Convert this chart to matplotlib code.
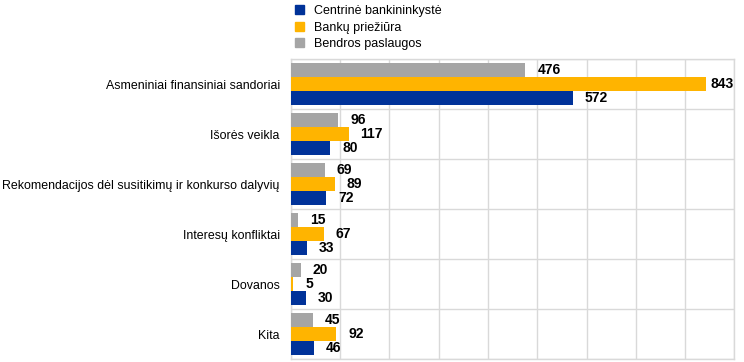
import numpy as np
import matplotlib.pyplot as plt

plt.rcParams['font.family'] = ['Liberation Sans', 'DejaVu Sans']

# data (top to bottom)
categories = ["Asmeniniai finansiniai sandoriai", "Išorės veikla",
              "Rekomendacijos dėl susitikimų ir konkurso dalyvių",
              "Interesų konfliktai", "Dovanos", "Kita"]
series_names = ["Centrinė bankininkystė", "Bankų priežiūra", "Bendros paslaugos"]
centrine = [572, 80, 72, 33, 30, 46]
prieziura = [843, 117, 89, 67, 5, 92]
bendros = [476, 96, 69, 15, 20, 45]
colors = ["#003299", "#FFB400", "#A5A5A5"]

fig = plt.figure(figsize=(7.44, 3.62), dpi=100)
ax = fig.add_axes([0.391, 0.008, 0.596, 0.829])

y = np.arange(len(categories))
h = 0.28
xmax = 900
# gray on top, orange middle, blue bottom (axis inverted)
groups = [(centrine, h), (prieziura, 0), (bendros, -h)]
for (vals, off), col, name in zip(groups, colors, series_names):
    ax.barh(y + off, vals, height=h, color=col, label=name, zorder=3)
    for yy, v in zip(y + off, vals):
        # keep labels inside the plot area, like the original
        xt = min(v + 24, xmax - 48)
        ax.text(xt, yy, str(v), va='center', ha='left',
                fontsize=10, fontweight='bold', zorder=4)

ax.set_xlim(0, xmax)
ax.set_ylim(len(categories) - 0.5, -0.5)
ax.set_xticks(np.arange(0, xmax + 1, 100))
ax.set_xticklabels([])
ax.set_yticks(y)
ax.set_yticklabels(categories, fontsize=8.9)
ax.set_yticks(np.arange(-0.5, len(categories), 1), minor=True)
ax.tick_params(axis='both', which='both', length=0)
ax.tick_params(axis='y', pad=8)
ax.grid(axis='x', color='#D9D9D9', linewidth=1, zorder=0)
ax.grid(axis='y', which='minor', color='#D9D9D9', linewidth=1, zorder=0)
for s in ax.spines.values():
    s.set_color('#D9D9D9')
    s.set_linewidth(1)

handles = [plt.Rectangle((0, 0), 1, 1, color=c) for c in colors]
fig.legend(handles, series_names, loc='upper left', bbox_to_anchor=(0.385, 1.01),
           frameon=False, fontsize=9, handlelength=0.7, handleheight=0.7,
           handletextpad=0.8, labelspacing=0.35, borderpad=0.2)

plt.savefig('out.png', dpi=100)
